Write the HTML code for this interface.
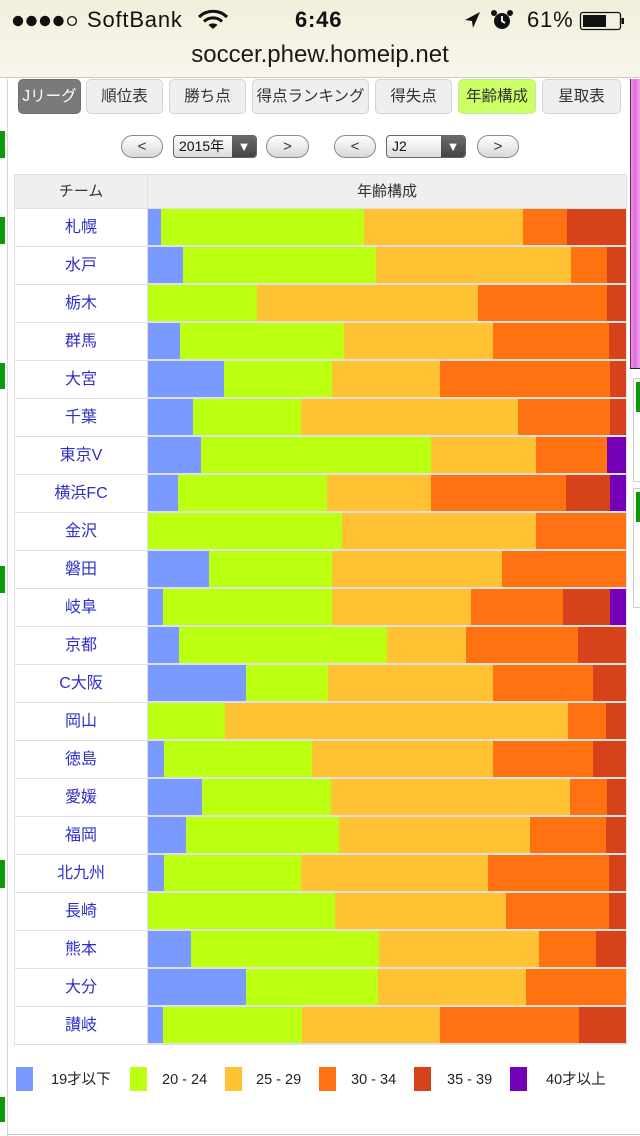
<!DOCTYPE html>
<html><head><meta charset="utf-8">
<style>
*{margin:0;padding:0;box-sizing:border-box}
html,body{width:640px;height:1136px;overflow:hidden;background:#fff}
body{position:relative;font-family:"Liberation Sans","Noto Sans CJK JP",sans-serif;color:#222}
.abs{position:absolute}
#hdr{left:0;top:0;width:640px;height:78px;background:linear-gradient(#f1efda,#f8f6ec);border-bottom:1px solid #cfcdc2}
.st{font-size:22px;color:#111;top:7px;line-height:26px;letter-spacing:0.8px}
.nav{top:79px;height:35px;border:1px solid #d4d4d4;border-radius:5px;background:#efefef;font-size:15.5px;color:#333;text-align:center;line-height:33px;white-space:nowrap}
.pill{top:135px;height:23px;border:1px solid #8a8a8a;border-radius:12px;background:linear-gradient(#fff,#d8d8d8);text-align:center;font-size:15px;line-height:22px;color:#333}
.sel{top:135px;height:23px;border:1px solid #666;border-radius:4px;background:linear-gradient(#fff,#dcdcdc);font-size:14px;line-height:21px;color:#111;padding-left:5px;overflow:hidden}
.sel .dd{position:absolute;right:0;top:0;bottom:0;width:24px;background:linear-gradient(#6a6a6a,#444);color:#fff;text-align:center;font-size:13px;line-height:21px}
.team{left:15px;width:132px;height:37px;background:#fff;text-align:center;line-height:37px;font-size:16px;color:#2f2fc8}
.bar{left:148px;width:478px;height:36px;display:flex}
.bar div{height:100%}
.b{background:#7b9aff}.g{background:#bbff11}.y{background:#ffc233}.o{background:#ff7111}.r{background:#d6421a}.p{background:#7400b8}
.gm{left:0;width:5px;background:#0a9a0a}
.lg{top:1067px;width:17px;height:24px}
.lt{top:1070px;font-size:14.5px;line-height:20px;color:#222}
</style></head><body>

<div id="hdr" class="abs"></div>
<svg class="abs" style="left:0;top:0" width="640" height="40">
  <circle cx="18" cy="21" r="5.2" fill="#111"/>
  <circle cx="31.5" cy="21" r="5.2" fill="#111"/>
  <circle cx="45" cy="21" r="5.2" fill="#111"/>
  <circle cx="58.5" cy="21" r="5.2" fill="#111"/>
  <circle cx="72" cy="21" r="4.4" fill="none" stroke="#111" stroke-width="1.3"/>
  <path d="M199 17 A20 20 0 0 1 227 17" fill="none" stroke="#111" stroke-width="3"/>
  <path d="M204 21.5 A13 13 0 0 1 222 21.5" fill="none" stroke="#111" stroke-width="3"/>
  <path d="M213 29 L208.5 25 A7 7 0 0 1 217.5 25 Z" fill="#111"/>
  <path d="M480 12 L465 20 L472 21 L473 28 Z" fill="#111"/>
  <circle cx="502" cy="21" r="8" fill="#111"/>
  <circle cx="494" cy="13" r="3" fill="#111"/>
  <circle cx="510" cy="13" r="3" fill="#111"/>
  <path d="M502 16 L502 21 L505 23" stroke="#fff" stroke-width="1.8" fill="none"/>
  <rect x="580.5" y="12.5" width="40" height="17" rx="2.5" fill="none" stroke="#111" stroke-width="1.3"/>
  <rect x="583" y="15" width="23" height="12" fill="#111"/>
  <rect x="621.5" y="18" width="2.5" height="6" fill="#111"/>
</svg>
<div class="abs st" style="left:87px">SoftBank</div>
<div class="abs st" style="left:295px;font-weight:bold">6:46</div>
<div class="abs st" style="left:527px">61%</div>
<div class="abs" style="left:0;width:640px;top:41px;text-align:center;font-size:24px;line-height:28px;color:#1a1a1a">soccer.phew.homeip.net</div>

<div class="abs" style="left:7px;top:79px;width:1px;height:1057px;background:#d8d8d8"></div>
<div class="abs" style="left:7px;top:1134px;width:633px;height:1px;background:#c8c8c8"></div>
<div class="abs gm" style="top:131px;height:27px"></div>
<div class="abs gm" style="top:217px;height:27px"></div>
<div class="abs gm" style="top:363px;height:26px"></div>
<div class="abs gm" style="top:566px;height:27px"></div>
<div class="abs gm" style="top:860px;height:28px"></div>
<div class="abs gm" style="top:1097px;height:25px"></div>

<div class="abs" style="left:630px;top:79px;width:10px;height:290px;background:linear-gradient(90deg,#6a2a60 0,#6a2a60 1px,#ee90e6 1px,#e070d8 5px,#f2a0ee 10px);border-bottom:1px solid #222"></div>
<div class="abs" style="left:633px;top:378px;width:8px;height:104px;border:1px solid #cfcfcf;border-right:none;background:#fff"></div>
<div class="abs" style="left:636px;top:382px;width:4px;height:30px;background:#0a9a0a"></div>
<div class="abs" style="left:633px;top:488px;width:8px;height:120px;border:1px solid #cfcfcf;border-right:none;background:#fff"></div>
<div class="abs" style="left:636px;top:492px;width:4px;height:30px;background:#0a9a0a"></div>

<div class="abs nav" style="left:18px;width:63px;background:#7a7a7a;border-color:#6e6e6e;color:#fff">Jリーグ</div>
<div class="abs nav" style="left:86px;width:77px">順位表</div>
<div class="abs nav" style="left:169px;width:77px">勝ち点</div>
<div class="abs nav" style="left:252px;width:117px">得点ランキング</div>
<div class="abs nav" style="left:375px;width:77px">得失点</div>
<div class="abs nav" style="left:458px;width:78px;background:#ccff66;border-color:#c0e8a0">年齢構成</div>
<div class="abs nav" style="left:542px;width:79px">星取表</div>

<div class="abs pill" style="left:121px;width:42px">&lt;</div>
<div class="abs sel" style="left:173px;width:84px">2015年<div class="dd">▼</div></div>
<div class="abs pill" style="left:266px;width:43px">&gt;</div>
<div class="abs pill" style="left:334px;width:42px">&lt;</div>
<div class="abs sel" style="left:386px;width:80px">J2<div class="dd">▼</div></div>
<div class="abs pill" style="left:477px;width:42px">&gt;</div>

<div class="abs" style="left:14px;top:174px;width:613px;height:871px;background:#e0e0e0"></div>
<div class="abs" style="left:15px;top:175px;width:132px;height:33px;background:#efefef;text-align:center;line-height:33px;font-size:15px;color:#333">チーム</div>
<div class="abs" style="left:148px;top:175px;width:478px;height:33px;background:#efefef;text-align:center;line-height:33px;font-size:15px;color:#333">年齢構成</div>

<div class="abs team" style="top:209px">札幌</div>
<div class="abs bar" style="top:209px"><div class="b" style="width:13px"></div><div class="g" style="width:203px"></div><div class="y" style="width:159px"></div><div class="o" style="width:44px"></div><div class="r" style="width:59px"></div></div>

<div class="abs team" style="top:247px">水戸</div>
<div class="abs bar" style="top:247px"><div class="b" style="width:35px"></div><div class="g" style="width:193px"></div><div class="y" style="width:195px"></div><div class="o" style="width:36px"></div><div class="r" style="width:19px"></div></div>

<div class="abs team" style="top:285px">栃木</div>
<div class="abs bar" style="top:285px"><div class="g" style="width:109px"></div><div class="y" style="width:221px"></div><div class="o" style="width:129px"></div><div class="r" style="width:19px"></div></div>

<div class="abs team" style="top:323px">群馬</div>
<div class="abs bar" style="top:323px"><div class="b" style="width:32px"></div><div class="g" style="width:164px"></div><div class="y" style="width:149px"></div><div class="o" style="width:116px"></div><div class="r" style="width:17px"></div></div>

<div class="abs team" style="top:361px">大宮</div>
<div class="abs bar" style="top:361px"><div class="b" style="width:76px"></div><div class="g" style="width:108px"></div><div class="y" style="width:108px"></div><div class="o" style="width:170px"></div><div class="r" style="width:16px"></div></div>

<div class="abs team" style="top:399px">千葉</div>
<div class="abs bar" style="top:399px"><div class="b" style="width:45px"></div><div class="g" style="width:108px"></div><div class="y" style="width:217px"></div><div class="o" style="width:92px"></div><div class="r" style="width:16px"></div></div>

<div class="abs team" style="top:437px">東京V</div>
<div class="abs bar" style="top:437px"><div class="b" style="width:53px"></div><div class="g" style="width:230px"></div><div class="y" style="width:105px"></div><div class="o" style="width:71px"></div><div class="p" style="width:19px"></div></div>

<div class="abs team" style="top:475px">横浜FC</div>
<div class="abs bar" style="top:475px"><div class="b" style="width:30px"></div><div class="g" style="width:149px"></div><div class="y" style="width:104px"></div><div class="o" style="width:135px"></div><div class="r" style="width:44px"></div><div class="p" style="width:16px"></div></div>

<div class="abs team" style="top:513px">金沢</div>
<div class="abs bar" style="top:513px"><div class="g" style="width:194px"></div><div class="y" style="width:194px"></div><div class="o" style="width:90px"></div></div>

<div class="abs team" style="top:551px">磐田</div>
<div class="abs bar" style="top:551px"><div class="b" style="width:61px"></div><div class="g" style="width:123px"></div><div class="y" style="width:170px"></div><div class="o" style="width:124px"></div></div>

<div class="abs team" style="top:589px">岐阜</div>
<div class="abs bar" style="top:589px"><div class="b" style="width:15px"></div><div class="g" style="width:169px"></div><div class="y" style="width:139px"></div><div class="o" style="width:92px"></div><div class="r" style="width:47px"></div><div class="p" style="width:16px"></div></div>

<div class="abs team" style="top:627px">京都</div>
<div class="abs bar" style="top:627px"><div class="b" style="width:31px"></div><div class="g" style="width:208px"></div><div class="y" style="width:79px"></div><div class="o" style="width:112px"></div><div class="r" style="width:48px"></div></div>

<div class="abs team" style="top:665px">C大阪</div>
<div class="abs bar" style="top:665px"><div class="b" style="width:98px"></div><div class="g" style="width:82px"></div><div class="y" style="width:165px"></div><div class="o" style="width:100px"></div><div class="r" style="width:33px"></div></div>

<div class="abs team" style="top:703px">岡山</div>
<div class="abs bar" style="top:703px"><div class="g" style="width:77px"></div><div class="y" style="width:343px"></div><div class="o" style="width:38px"></div><div class="r" style="width:20px"></div></div>

<div class="abs team" style="top:741px">徳島</div>
<div class="abs bar" style="top:741px"><div class="b" style="width:16px"></div><div class="g" style="width:148px"></div><div class="y" style="width:181px"></div><div class="o" style="width:100px"></div><div class="r" style="width:33px"></div></div>

<div class="abs team" style="top:779px">愛媛</div>
<div class="abs bar" style="top:779px"><div class="b" style="width:54px"></div><div class="g" style="width:129px"></div><div class="y" style="width:239px"></div><div class="o" style="width:37px"></div><div class="r" style="width:19px"></div></div>

<div class="abs team" style="top:817px">福岡</div>
<div class="abs bar" style="top:817px"><div class="b" style="width:38px"></div><div class="g" style="width:153px"></div><div class="y" style="width:191px"></div><div class="o" style="width:76px"></div><div class="r" style="width:20px"></div></div>

<div class="abs team" style="top:855px">北九州</div>
<div class="abs bar" style="top:855px"><div class="b" style="width:16px"></div><div class="g" style="width:137px"></div><div class="y" style="width:187px"></div><div class="o" style="width:121px"></div><div class="r" style="width:17px"></div></div>

<div class="abs team" style="top:893px">長崎</div>
<div class="abs bar" style="top:893px"><div class="g" style="width:187px"></div><div class="y" style="width:171px"></div><div class="o" style="width:103px"></div><div class="r" style="width:17px"></div></div>

<div class="abs team" style="top:931px">熊本</div>
<div class="abs bar" style="top:931px"><div class="b" style="width:43px"></div><div class="g" style="width:188px"></div><div class="y" style="width:160px"></div><div class="o" style="width:57px"></div><div class="r" style="width:30px"></div></div>

<div class="abs team" style="top:969px">大分</div>
<div class="abs bar" style="top:969px"><div class="b" style="width:98px"></div><div class="g" style="width:132px"></div><div class="y" style="width:148px"></div><div class="o" style="width:100px"></div></div>

<div class="abs team" style="top:1007px">讃岐</div>
<div class="abs bar" style="top:1007px"><div class="b" style="width:15px"></div><div class="g" style="width:139px"></div><div class="y" style="width:138px"></div><div class="o" style="width:139px"></div><div class="r" style="width:47px"></div></div>

<div class="abs lg b" style="left:16px"></div>
<div class="abs lt" style="left:51px">19才以下</div>
<div class="abs lg g" style="left:130px"></div>
<div class="abs lt" style="left:162px">20 - 24</div>
<div class="abs lg y" style="left:225px"></div>
<div class="abs lt" style="left:256px">25 - 29</div>
<div class="abs lg o" style="left:319px"></div>
<div class="abs lt" style="left:351px">30 - 34</div>
<div class="abs lg r" style="left:414px"></div>
<div class="abs lt" style="left:447px">35 - 39</div>
<div class="abs lg p" style="left:510px"></div>
<div class="abs lt" style="left:546px">40才以上</div>

</body></html>
